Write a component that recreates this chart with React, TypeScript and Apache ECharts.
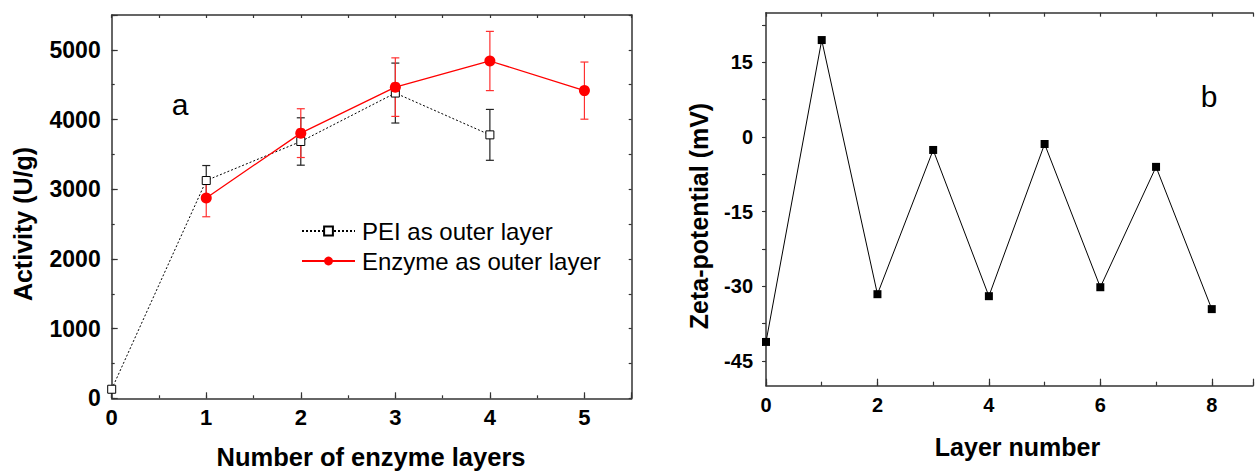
import React, { useEffect, useRef } from 'react';
import * as echarts from 'echarts';

// ---------- data ----------
const layersA = [0, 1, 2, 3, 4, 5];
const peiActivity = [130, 3125, 3685, 4380, 3780];
const peiError = [0, 215, 340, 430, 365];
const enzymeActivity = [null, 2875, 3805, 4465, 4840, 4415];
const enzymeError = [0, 270, 350, 420, 425, 410];
const xLabelsA = [0, 1, 2, 3, 4, 5];
const yLabelsA = [0, 1000, 2000, 3000, 4000, 5000];

const layersB = [0, 1, 2, 3, 4, 5, 6, 7, 8];
const zeta = [-41.2, 19.5, -31.6, -2.6, -32.0, -1.4, -30.2, -6.0, -34.6];
const xLabelsB = [0, 2, 4, 6, 8];
const zetaLabels = [-45, -30, -15, 0, 15];
const zetaTicks = [-45, -37.5, -30, -22.5, -15, -7.5, 0, 7.5, 15, 22.5];
const layerAxisMax = 8.74; // the panel's frame continues past the picture's right edge

const FONT = '"Liberation Sans", Arial, Helvetica, sans-serif';
const FRAME = '#333';

export default function App() {
  const ref = useRef<HTMLDivElement>(null);

  useEffect(() => {
    const el = ref.current!;
    const chart = echarts.init(el, null, { renderer: 'svg' });

    const line = { show: true, onZero: false, lineStyle: { color: FRAME, width: 1.5 } };
    const noLine = { show: false, onZero: false };
    const tick = (len: number, inside = true) => ({
      show: true,
      inside,
      length: len,
      lineStyle: { color: FRAME, width: 1.2 },
    });
    const noLabel = { show: false };
    const base = { type: 'value', splitLine: { show: false }, axisPointer: { show: false } };
    const labelFrom = (arr: number[], size: number, margin: number) => ({
      show: true,
      fontFamily: FONT,
      fontWeight: 'bold',
      fontSize: size,
      color: '#000',
      margin,
      formatter: (v: number) => (arr.some((a) => Math.abs(a - v) < 1e-9) ? String(Math.round(v)) : ''),
    });

    const xAxis = [
      { ...base, gridIndex: 0, position: 'bottom', min: 0, max: 5.5, interval: 0.5, axisLine: line, axisTick: tick(3), axisLabel: labelFrom(xLabelsA, 22, 8) },
      { ...base, gridIndex: 0, position: 'bottom', min: 0, max: 5.5, interval: 1, axisLine: noLine, axisTick: tick(6), axisLabel: noLabel },
      { ...base, gridIndex: 0, position: 'top', min: 0, max: 5.5, interval: 0.5, axisLine: line, axisTick: tick(3), axisLabel: noLabel },
      { ...base, gridIndex: 1, position: 'bottom', min: 0, max: layerAxisMax, interval: 1, axisLine: line, axisTick: tick(4), axisLabel: labelFrom(xLabelsB, 20, 9) },
      { ...base, gridIndex: 1, position: 'bottom', min: 0, max: layerAxisMax, interval: 2, axisLine: noLine, axisTick: tick(7), axisLabel: noLabel },
      { ...base, gridIndex: 1, position: 'top', min: 0, max: layerAxisMax, interval: 1, axisLine: line, axisTick: tick(4), axisLabel: noLabel },
    ];

    const yAxis = [
      { ...base, gridIndex: 0, position: 'left', min: 0, max: 5500, interval: 500, axisLine: line, axisTick: tick(3), axisLabel: labelFrom(yLabelsA, 23, 11) },
      { ...base, gridIndex: 0, position: 'left', min: 0, max: 5500, interval: 1000, axisLine: noLine, axisTick: tick(6), axisLabel: noLabel },
      { ...base, gridIndex: 0, position: 'right', min: 0, max: 5500, interval: 500, axisLine: line, axisTick: tick(3), axisLabel: noLabel },
      {
        ...base,
        gridIndex: 1,
        position: 'left',
        min: -50,
        max: 25,
        axisLine: line,
        axisTick: { ...tick(4, false), customValues: zetaTicks },
        axisLabel: {
          show: true,
          fontFamily: FONT,
          fontWeight: 'bold',
          fontSize: 20,
          color: '#000',
          margin: 13,
          customValues: zetaLabels,
        },
      },
    ];

    const errRender = (color: string) => (params: any, api: any) => {
      const x = api.value(0);
      const lo = api.value(1);
      const hi = api.value(2);
      const p1 = api.coord([x, hi]);
      const p2 = api.coord([x, lo]);
      const w = 4;
      const style = { stroke: color, lineWidth: 1.2, fill: 'none' };
      return {
        type: 'group',
        children: [
          { type: 'line', shape: { x1: p1[0], y1: p1[1], x2: p2[0], y2: p2[1] }, style },
          { type: 'line', shape: { x1: p1[0] - w, y1: p1[1], x2: p1[0] + w, y2: p1[1] }, style },
          { type: 'line', shape: { x1: p2[0] - w, y1: p2[1], x2: p2[0] + w, y2: p2[1] }, style },
        ],
      };
    };

    const peiBars = peiActivity
      .map((v, i) => [layersA[i], v - peiError[i], v + peiError[i]])
      .filter((_, i) => peiError[i] > 0);
    const enzymeBars = enzymeActivity
      .map((v, i) => (v === null ? null : [layersA[i], v - enzymeError[i], v + enzymeError[i]]))
      .filter((d, i) => d !== null && enzymeError[i] > 0);

    const titleFont = (size: number) => `bold ${size}px ${FONT}`;
    const txt = (text: string, x: number, y: number, font: string, rotation = 0) => ({
      type: 'text',
      x,
      y,
      rotation,
      silent: true,
      style: {
        text,
        font,
        fill: '#000',
        align: 'center',
        verticalAlign: 'middle',
        textAlign: 'center',
        textVerticalAlign: 'middle',
      },
    });

    chart.setOption({
      animation: false,
      backgroundColor: '#fff',
      grid: [
        { left: 111.7, top: 15, width: 520, height: 383.3, show: false },
        { left: 766, top: 12.7, width: 490, height: 373, show: false },
      ],
      xAxis,
      yAxis,
      legend: {
        show: true,
        orient: 'vertical',
        left: 301,
        top: 219,
        padding: 0,
        itemWidth: 53,
        itemHeight: 11,
        itemGap: 6,
        data: ['PEI as outer layer', 'Enzyme as outer layer'],
        textStyle: { fontFamily: FONT, fontSize: 24, color: '#000', padding: [0, 0, 0, 2] },
      },
      graphic: [
        txt('Activity (U/g)', 23, 224, titleFont(25), Math.PI / 2),
        txt('Number of enzyme layers', 371, 457, titleFont(25.5)),
        txt('Zeta-potential (mV)', 698.5, 216, titleFont(25), Math.PI / 2),
        txt('Layer number', 1017.5, 447, titleFont(25)),
        txt('a', 180, 104, `30px ${FONT}`),
        txt('b', 1209, 96, `30px ${FONT}`),
      ],
      series: [
        {
          type: 'custom',
          name: 'PEI error',
          xAxisIndex: 0,
          yAxisIndex: 0,
          data: peiBars,
          encode: { x: 0, y: [1, 2] },
          renderItem: errRender('#222'),
          z: 3,
          silent: true,
        },
        {
          type: 'custom',
          name: 'Enzyme error',
          xAxisIndex: 0,
          yAxisIndex: 0,
          data: enzymeBars,
          encode: { x: 0, y: [1, 2] },
          renderItem: errRender('#ff3030'),
          z: 3,
          silent: true,
        },
        {
          type: 'line',
          name: 'PEI as outer layer',
          xAxisIndex: 0,
          yAxisIndex: 0,
          data: peiActivity.map((v, i) => [layersA[i], v]),
          symbol: 'rect',
          symbolSize: 8,
          itemStyle: { color: '#fff', borderColor: '#000', borderWidth: 1 },
          lineStyle: { color: '#000', width: 1, type: [2, 2] },
          z: 4,
          silent: true,
        },
        {
          type: 'line',
          name: 'Enzyme as outer layer',
          xAxisIndex: 0,
          yAxisIndex: 0,
          data: enzymeActivity
            .map((v, i) => [layersA[i], v])
            .filter((d) => d[1] !== null),
          symbol: 'circle',
          symbolSize: 11,
          itemStyle: { color: '#ff0000' },
          lineStyle: { color: '#ff0000', width: 1.3 },
          z: 5,
          silent: true,
        },
        {
          type: 'line',
          name: 'Zeta',
          xAxisIndex: 3,
          yAxisIndex: 3,
          data: zeta.map((v, i) => [layersB[i], v]),
          symbol: 'rect',
          symbolSize: 8,
          itemStyle: { color: '#000' },
          lineStyle: { color: '#000', width: 1 },
          z: 4,
          silent: true,
        },
      ],
    });

    return () => chart.dispose();
  }, []);

  return (
    <div
      ref={ref}
      style={{ position: 'fixed', left: 0, top: 0, width: 1256, height: 472, background: '#fff' }}
    />
  );
}
